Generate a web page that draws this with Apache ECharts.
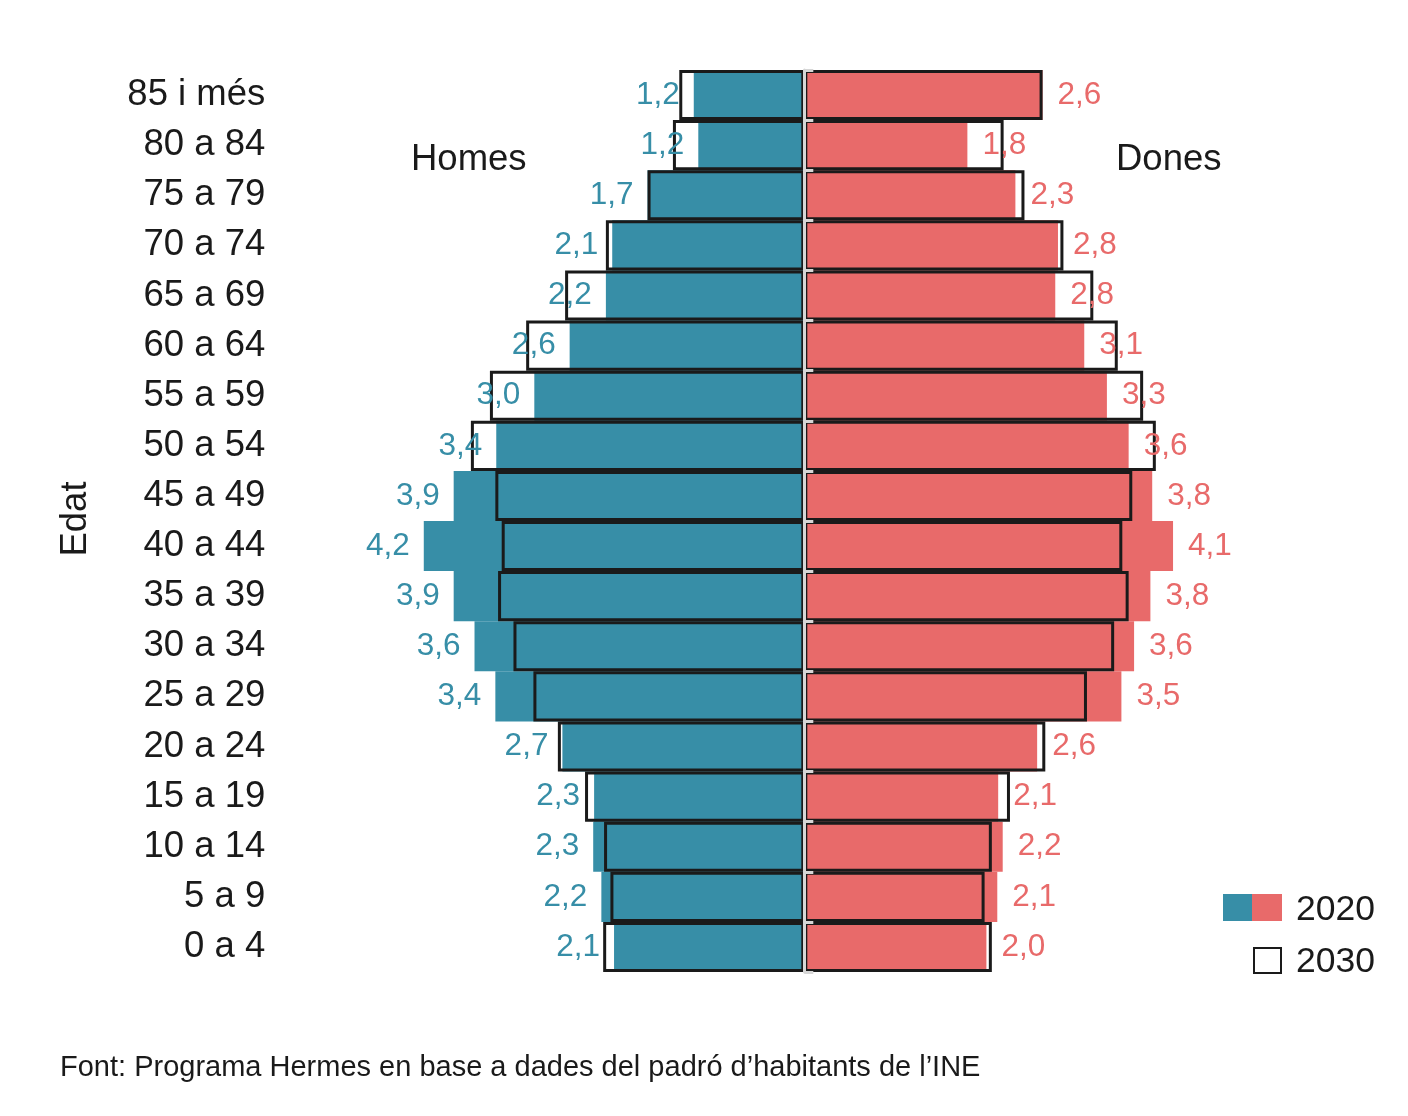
<!DOCTYPE html>
<html>
<head>
<meta charset="utf-8">
<title>Piràmide de població 2020 i 2030</title>
<script src="https://cdn.jsdelivr.net/npm/echarts@6/dist/echarts.min.js"></script>
<style>
    html, body { margin: 0; padding: 0; background: #fff; }
    #main { width: 1408px; height: 1116px; }
</style>
</head>
<body>
<div id="main"></div>
<script type="text/javascript">
    // grups d'edat, de dalt a baix
    var edats = ['85 i més', '80 a 84', '75 a 79', '70 a 74', '65 a 69', '60 a 64', '55 a 59', '50 a 54', '45 a 49',
                 '40 a 44', '35 a 39', '30 a 34', '25 a 29', '20 a 24', '15 a 19', '10 a 14', '5 a 9', '0 a 4'];
    // percentatge de població
    var homes2020 = [1.22, 1.17, 1.73, 2.12, 2.19, 2.59, 2.98, 3.40, 3.87, 4.20, 3.87, 3.64, 3.41, 2.67, 2.32, 2.33, 2.24, 2.10];
    var dones2020 = [2.63, 1.80, 2.33, 2.80, 2.77, 3.09, 3.34, 3.58, 3.84, 4.07, 3.82, 3.64, 3.50, 2.57, 2.14, 2.19, 2.13, 2.01];
    var homes2030 = [1.38, 1.45, 1.73, 2.19, 2.64, 3.07, 3.47, 3.68, 3.41, 3.34, 3.38, 3.21, 2.99, 2.72, 2.42, 2.21, 2.14, 2.22];
    var dones2030 = [2.63, 2.20, 2.43, 2.86, 3.19, 3.46, 3.74, 3.88, 3.62, 3.51, 3.58, 3.42, 3.12, 2.66, 2.27, 2.07, 1.99, 2.07];

    var colorHomes = '#378ea7';
    var colorDones = '#e86a6a';
    var negre = '#1a1a1a';
    var font = "'Liberation Sans', Arial, sans-serif";

    function fmt(v) {
        return Math.abs(v).toFixed(1).replace('.', ',');
    }
    function negatiu(arr) {
        return arr.map(function (v) { return -v; });
    }

    var myChart = echarts.init(document.getElementById('main'));

    var option = {
        backgroundColor: '#fff',
        animation: false,
        textStyle: { fontFamily: font },
        grid: { left: 351.3, top: 70, width: 906, height: 902 },
        xAxis: {
            type: 'value',
            min: -5,
            max: 5,
            axisLine: { show: false },
            axisTick: { show: false },
            axisLabel: { show: false },
            splitLine: { show: false }
        },
        yAxis: [{
            type: 'category',
            data: edats,
            inverse: true,
            position: 'left',
            axisLine: { show: false, onZero: false },
            axisTick: { show: false },
            axisLabel: { fontSize: 36.5, color: negre, margin: 86, fontFamily: font, padding: [3, 0, 0, 0] }
        }, {
            // línia central
            type: 'category',
            data: edats,
            inverse: true,
            position: 'left',
            z: 10,
            axisLine: { show: true, onZero: true, lineStyle: { color: '#d6d6d6', width: 3 } },
            axisTick: { show: true, inside: true, length: 9, lineStyle: { color: '#d6d6d6', width: 3 } },
            axisLabel: { show: false }
        }],
        series: [{
            name: 'Homes 2020',
            type: 'bar',
            data: negatiu(homes2020),
            barGap: '-100%',
            barCategoryGap: '0%',
            itemStyle: { color: colorHomes },
            label: {
                show: true, position: 'left', distance: 14,
                color: colorHomes, fontSize: 31.5, fontFamily: font,
                formatter: function (p) { return fmt(p.value); }
            }
        }, {
            name: 'Dones 2020',
            type: 'bar',
            data: dones2020,
            barGap: '-100%',
            barCategoryGap: '0%',
            itemStyle: { color: colorDones },
            label: {
                show: true, position: 'right', distance: 15,
                color: colorDones, fontSize: 31.5, fontFamily: font,
                formatter: function (p) { return fmt(p.value); }
            }
        }, {
            name: 'Homes 2030',
            type: 'bar',
            data: negatiu(homes2030),
            barGap: '-100%',
            barCategoryGap: '0%',
            itemStyle: { color: 'rgba(0,0,0,0)', borderColor: negre, borderWidth: 3 }
        }, {
            name: 'Dones 2030',
            type: 'bar',
            data: dones2030,
            barGap: '-100%',
            barCategoryGap: '0%',
            itemStyle: { color: 'rgba(0,0,0,0)', borderColor: negre, borderWidth: 3 }
        }],
        graphic: [
            { type: 'text', x: 411, y: 160, style: { text: 'Homes', fontSize: 36.5, fontFamily: font, fill: negre, verticalAlign: 'middle' } },
            { type: 'text', x: 1116, y: 160, style: { text: 'Dones', fontSize: 36.5, fontFamily: font, fill: negre, verticalAlign: 'middle' } },
            { type: 'text', x: 76, y: 519, rotation: Math.PI / 2,
              style: { text: 'Edat', fontSize: 36.5, fontFamily: font, fill: negre, align: 'center', verticalAlign: 'middle' } },
            // llegenda
            { type: 'rect', shape: { x: 1223, y: 894, width: 29, height: 27 }, style: { fill: colorHomes } },
            { type: 'rect', shape: { x: 1252, y: 894, width: 30, height: 27 }, style: { fill: colorDones } },
            { type: 'text', x: 1296, y: 910, style: { text: '2020', fontSize: 35.5, fontFamily: font, fill: negre, verticalAlign: 'middle' } },
            { type: 'rect', shape: { x: 1254, y: 948, width: 27, height: 25 }, style: { fill: '#fff', stroke: negre, lineWidth: 2 } },
            { type: 'text', x: 1296, y: 962, style: { text: '2030', fontSize: 35.5, fontFamily: font, fill: negre, verticalAlign: 'middle' } },
            { type: 'text', x: 60, y: 1068, style: { text: 'Font: Programa Hermes en base a dades del padró d’habitants de l’INE', fontSize: 29, fontFamily: font, fill: negre, verticalAlign: 'middle' } }
        ]
    };

    myChart.setOption(option);
</script>
</body>
</html>
